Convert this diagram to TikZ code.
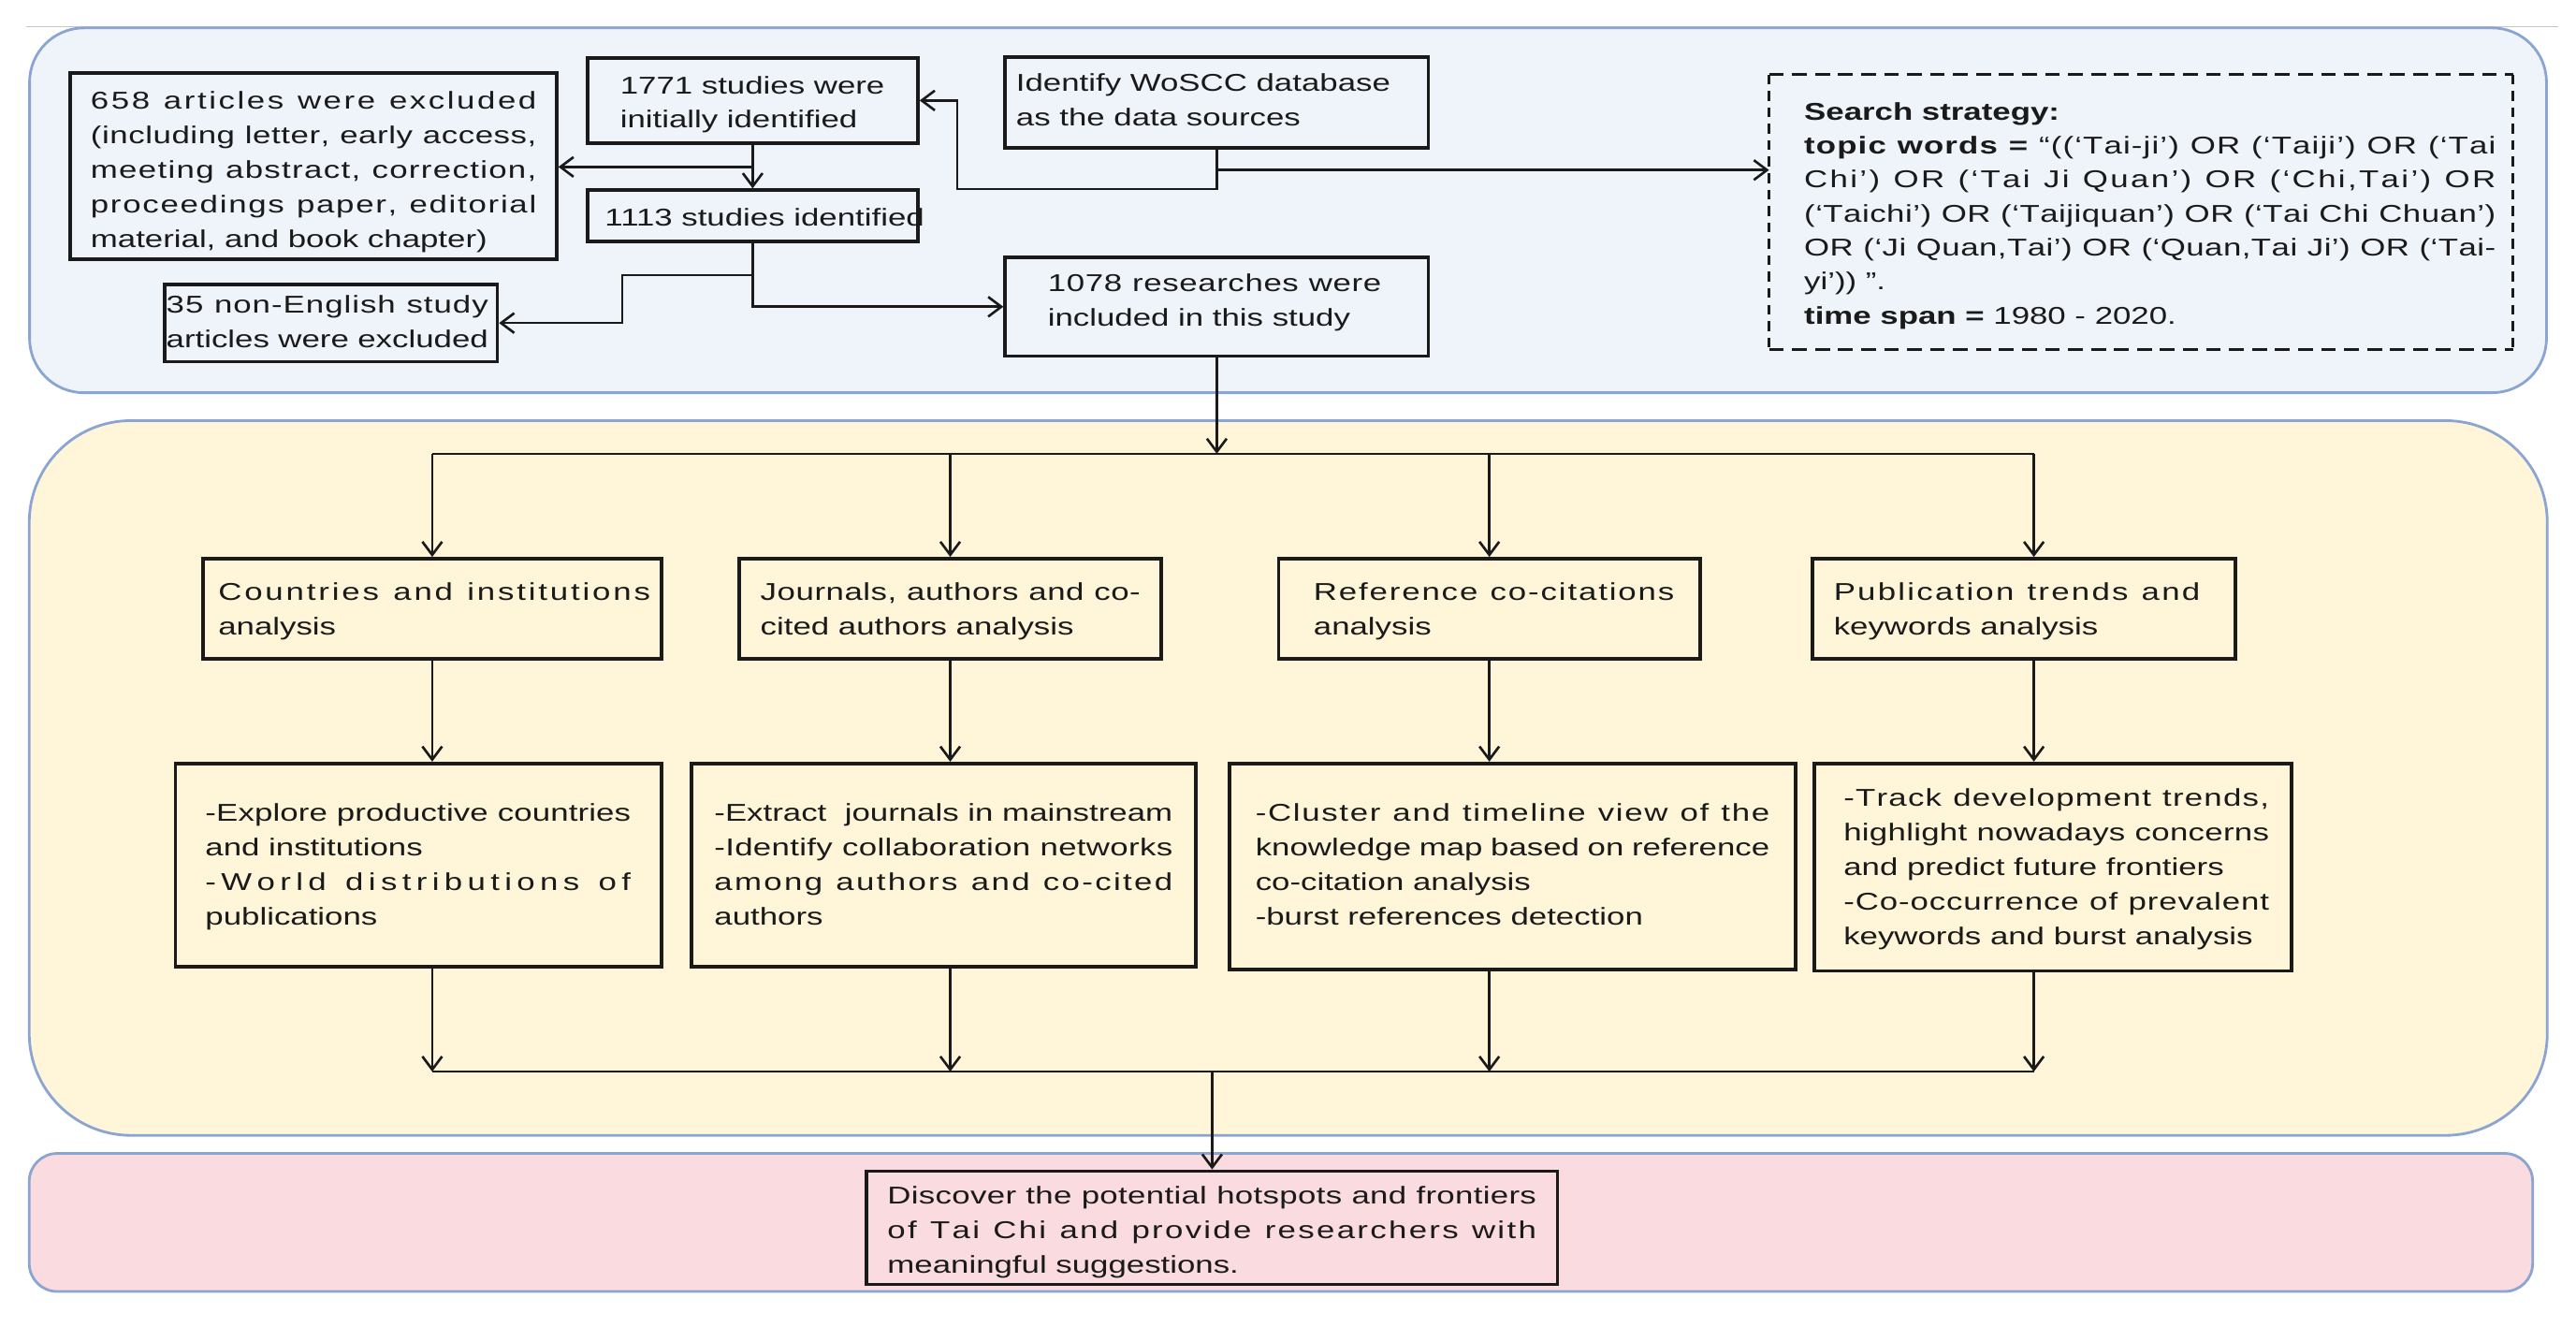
\documentclass[tikz,border=0pt]{standalone}
\usepackage{fontspec}
\setmainfont{Liberation Sans}[FakeStretch=1.34]
\usetikzlibrary{arrows.meta,fit}

\definecolor{bluebg}{HTML}{EEF4FA}
\definecolor{yellowbg}{HTML}{FFF5D9}
\definecolor{pinkbg}{HTML}{FADBDF}
\definecolor{panelline}{HTML}{8AA5D2}
\definecolor{ink}{HTML}{1A1A1A}

% letter-spaced (distributed) lines
\newcommand\spreadtxt[1]{\spreadfirst#1\relax}
\def\spreadfirst#1{#1\spreadrest}
\def\spreadrest#1{\ifx#1\relax\else\hskip 0pt plus 1fil\relax#1\expandafter\spreadrest\fi}
\newcommand\sline[1]{\makebox[\linewidth][s]{\spreadtxt{#1}}}
\newcommand\jline[1]{\makebox[\linewidth][s]{#1}}

\begin{document}
\begin{tikzpicture}[x=1pt,y=-1pt,
  panel/.style={draw=panelline, line width=1.6pt, inner sep=0pt},
  box/.style={draw=ink, line width=2.1pt, inner sep=0pt},
  txt/.style={anchor=base west, inner sep=0pt, text=ink, font=\fontsize{14.8}{21}\selectfont},
  conn/.style={draw=ink, line width=1.5pt},
  >={Straight Barb[length=8pt,width=12pt]}]

\fill[white] (0,0) rectangle (1568,807.6);
\useasboundingbox (0,0) rectangle (1568,807.6);

% panels
\draw[gray!45, line width=0.8pt] (16,16.3) -- (1557,16.3);
\node[panel, fill=bluebg, rounded corners=33pt, fit={(18,17) (1550,239)}] (ptop) {};
\node[panel, fill=yellowbg, rounded corners=62pt, fit={(17.8,256) (1550.5,691)}] (pmid) {};
\node[panel, fill=pinkbg, rounded corners=17pt, fit={(17.8,702) (1541.6,786)}] (pbot) {};

% top boxes
\node[box, fit={(42.8,44.6) (338.8,157.9)}] (n658) {};
\node[box, fit={(357.6,35.3) (558.7,87)}] (n1771) {};
\node[box, fit={(357.6,115.7) (558.7,147)}] (n1113) {};
\node[box, fit={(100.2,173) (302.7,220.2)}] (n35) {};
\node[box, fit={(611.8,34.6) (869.5,90)}] (nwos) {};
\node[box, fit={(611.8,156.6) (869.5,216.8)}] (n1078) {};
\node[inner sep=0pt, fit={(1077,45.6) (1529.4,212.6)}] (nsearch) {};
\draw[ink, line width=2pt, dash pattern=on 9pt off 5pt]
  (nsearch.north west) -- (nsearch.north east)
  (nsearch.south west) -- (nsearch.south east);
\draw[ink, line width=2pt, dash pattern=on 6pt off 4pt]
  (nsearch.north west) -- (nsearch.south west)
  (nsearch.north east) -- (nsearch.south east);

% middle boxes
\node[box, fit={(123.5,340) (402.7,400.9)}] (a1) {};
\node[box, fit={(450,340) (706.8,400.9)}] (a2) {};
\node[box, fit={(778.3,340) (1034.8,400.9)}] (a3) {};
\node[box, fit={(1103.4,340) (1360.5,400.9)}] (a4) {};
\node[box, fit={(106.8,464.6) (402.7,588.2)}] (c1) {};
\node[box, fit={(421,464.6) (728,588.2)}] (c2) {};
\node[box, fit={(748.2,464.6) (1092.9,590)}] (c3) {};
\node[box, fit={(1104.5,464.6) (1394.7,591)}] (c4) {};

% final box
\node[box, fit={(527.6,712.8) (948,781.7)}] (fin) {};

% texts
\node[txt] (t658) at (55,66.4) {\parbox[t]{271.4pt}{%
\sline{658~articles~were~excluded}\\
\sline{(including~letter,~early~access,}\\
\sline{meeting~abstract,~correction,}\\
\sline{proceedings~paper,~editorial}\\
material, and book chapter)}};
\node[txt] (t1771) at (377.3,57) {\parbox[t]{180pt}{1771 studies were\\initially identified}};
\node[txt] (t1113) at (368,137.6) {1113 studies identified};
\node[txt] (t35) at (101,190.8) {\parbox[t]{196pt}{\sline{35~non-English~study}\\articles were excluded}};
\node[txt] (twos) at (618.3,55.4) {\parbox[t]{245pt}{Identify WoSCC database\\as the data sources}};
\node[txt] (t1078) at (637.6,177.5) {\parbox[t]{203pt}{\sline{1078~researches~were}\\included in this study}};
\node[txt, font=\fontsize{14.8}{20.7}\selectfont] (tsearch) at (1098,73) {\parbox[t]{421pt}{%
\textbf{Search strategy:}\\
\makebox[\linewidth][s]{{\bfseries\spreadtxt{topic~words~=}}\hskip 0pt plus 1fil~\hskip 0pt plus 1fil\spreadtxt{“((‘Tai-ji’)~OR~(‘Taiji’)~OR~(‘Tai}}\\
\sline{Chi’)~OR~(‘Tai~Ji~Quan’)~OR~(‘Chi,Tai’)~OR}\\
\sline{(‘Taichi’)~OR~(‘Taijiquan’)~OR~(‘Tai~Chi~Chuan’)}\\
\sline{OR~(‘Ji~Quan,Tai’)~OR~(‘Quan,Tai~Ji’)~OR~(‘Tai-}\\
yi’)) ”.\\
\textbf{time span =} 1980 - 2020.}};

\node[txt] (ta1) at (132.7,365.4) {\parbox[t]{263pt}{\sline{Countries~and~institutions}\\analysis}};
\node[txt] (ta2) at (462.7,365.4) {\parbox[t]{231.3pt}{\sline{Journals,~authors~and~co-}\\cited authors analysis}};
\node[txt] (ta3) at (799.4,365.4) {\parbox[t]{219.5pt}{\sline{Reference~co-citations}\\analysis}};
\node[txt] (ta4) at (1116,365.4) {\parbox[t]{223pt}{\sline{Publication~trends~and}\\keywords analysis}};

\node[txt] (tc1) at (124.8,500) {\parbox[t]{259pt}{%
\sline{-Explore~productive~countries}\\
and institutions\\
\sline{-World~distributions~of}\\
publications}};
\node[txt] (tc2) at (434.6,500) {\parbox[t]{279pt}{%
\sline{-Extract~~journals~in~mainstream}\\
\sline{-Identify~collaboration~networks}\\
\sline{among~authors~and~co-cited}\\
authors}};
\node[txt] (tc3) at (764,500) {\parbox[t]{313pt}{%
\sline{-Cluster~and~timeline~view~of~the}\\
\sline{knowledge~map~based~on~reference}\\
co-citation analysis\\
-burst references detection}};
\node[txt] (tc4) at (1122,490.7) {\parbox[t]{259pt}{%
\sline{-Track~development~trends,}\\
\sline{highlight~nowadays~concerns}\\
and predict future frontiers\\
\sline{-Co-occurrence~of~prevalent}\\
keywords and burst analysis}};
\node[txt] (tfin) at (540,733) {\parbox[t]{395pt}{%
\sline{Discover~the~potential~hotspots~and~frontiers}\\
\sline{of~Tai~Chi~and~provide~researchers~with}\\
meaningful suggestions.}};

% junction coordinates
\coordinate (jWoS) at (582.6,115);
\coordinate (jSearch) at (740.65,103.5);
\coordinate (j658) at (458.15,101.6);
\coordinate (j35) at (458.15,167.4);
\coordinate (k35) at (378.7,196.6);
\coordinate (busT) at (740.65,276.2);
\coordinate (busB) at (737.8,652.2);
\coordinate (a4x) at (1238,0);

% top connectors
\draw[conn,->] (nwos.south) |- (jWoS) |- (n1771.east);
\draw[conn,->] (jSearch) -- (jSearch -| nsearch.west);
\draw[conn,->] (n1771.south) -- (n1113.north);
\draw[conn,->] (j658) -- (j658 -| n658.east);
\draw[conn,->] (n1113.south) |- (n1078.west);
\draw[conn,->] (j35) -| (k35) -- (n35.east);
\draw[conn,->] (n1078.south) -- (busT);

% distribution bus
\draw[conn] (busT -| a1.north) -- (busT -| a4x);
\foreach \a in {a1,a2,a3} \draw[conn,->] (busT -| \a.north) -- (\a.north);
\draw[conn,->] (busT -| a4x) -- (a4x |- a4.north);

% row 1 to row 2
\draw[conn,->] (a1.south) -- (a1.south |- c1.north);
\draw[conn,->] (a2.south) -- (a2.south |- c2.north);
\draw[conn,->] (a3.south) -- (a3.south |- c3.north);
\draw[conn,->] (a4x |- a4.south) -- (a4x |- c4.north);

% row 2 to collecting bus
\draw[conn,->] (a1.south |- c1.south) -- (a1.south |- busB);
\draw[conn,->] (a2.south |- c2.south) -- (a2.south |- busB);
\draw[conn,->] (a3.south |- c3.south) -- (a3.south |- busB);
\draw[conn,->] (a4x |- c4.south) -- (a4x |- busB);
\draw[conn] (busB -| a1.south) -- (busB -| a4x);
\draw[conn,->] (busB) -- (busB |- fin.north);

\end{tikzpicture}
\end{document}
